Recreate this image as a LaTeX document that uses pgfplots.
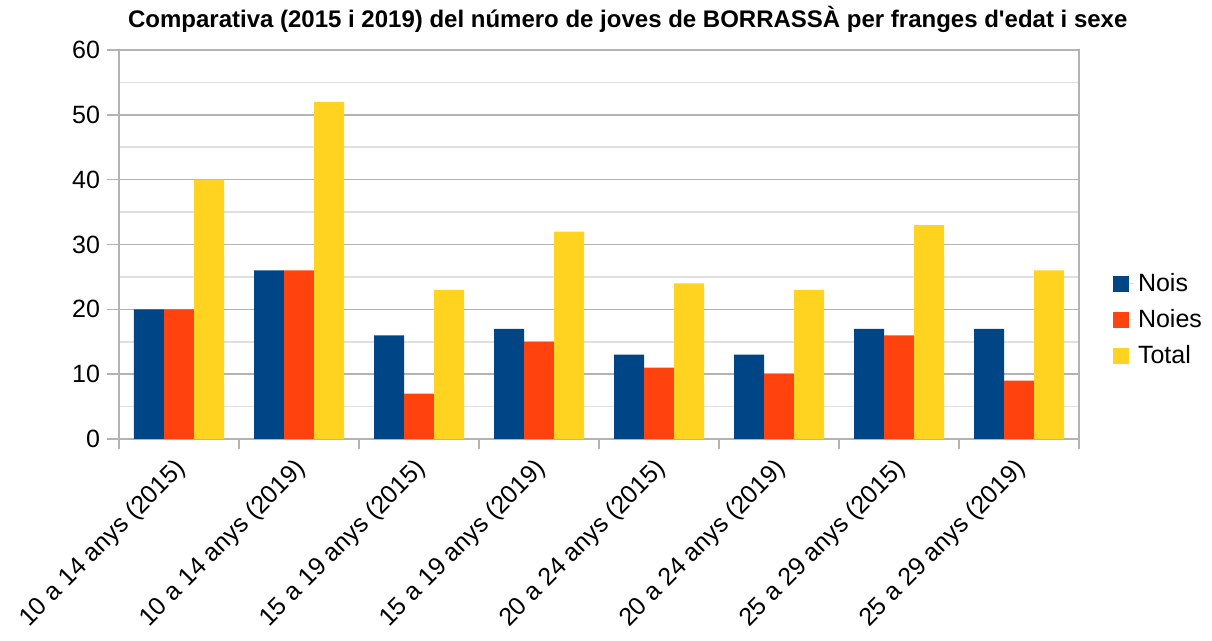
\documentclass[border=0pt]{standalone}
\usepackage{fontspec}
\setmainfont{Liberation Sans}[Ligatures=TeXOff]
\usepackage{pgfplots}
\usepackage{pgfplotstable}
\pgfplotsset{compat=1.18}

\definecolor{nois}{HTML}{004586}
\definecolor{noies}{HTML}{FF420E}
\definecolor{total}{HTML}{FFD320}
\definecolor{axgray}{HTML}{B3B3B3}

\pgfplotstableread{
x nois noies total
0 20 20 40
1 26 26 52
2 16 7 23
3 17 15 32
4 13 11 24
5 13 10 23
6 17 16 33
7 17 9 26
}\joves

\begin{document}
\begin{tikzpicture}
  \begin{axis}[
    width=480pt, height=194.5pt, scale only axis,
    clip=false,
    ybar=0pt, bar width=0.25,
    xmin=-0.5, xmax=7.5, ymin=0, ymax=60,
    ytick={0,10,...,60}, minor y tick num=1,
    xtick={0,...,7},
    xticklabels={10 a 14 anys (2015), 10 a 14 anys (2019), 15 a 19 anys (2015), 15 a 19 anys (2019),
                  20 a 24 anys (2015), 20 a 24 anys (2019), 25 a 29 anys (2015), 25 a 29 anys (2019)},
    x tick label style={rotate=45, anchor=east, xshift=-0.5pt, yshift=-6pt},
    minor xtick={-0.5,0.5,...,7.5},
    xtick pos=bottom, ytick pos=left,
    major x tick style={draw=none},
    minor y tick style={draw=none},
    tick align=outside, major tick length=6pt, minor tick length=5pt,
    tick style={axgray, line width=0.8pt},
    axis line style={axgray, line width=0.8pt},
    ymajorgrids, yminorgrids,
    major grid style={axgray, line width=0.8pt},
    minor grid style={gray!25, line width=0.8pt},
    ticklabel style={font=\fontsize{12.5}{14}\selectfont},
    /pgf/number format/assume math mode=true,
    legend style={at={(1.035,0.306)}, anchor=west, draw=none, inner sep=0pt,
                  font=\fontsize{12.5}{15}\selectfont, row sep=3.5pt},
    legend cell align=left,
    legend image code/.code={\fill[#1] (0pt,-4pt) rectangle (8pt,4pt); \path (0pt,0pt) -- (10.5pt,0pt);},
  ]
    \addplot[fill=nois, draw=none] table[x=x, y=nois] {\joves};
    \addplot[fill=noies, draw=none] table[x=x, y=noies] {\joves};
    \addplot[fill=total, draw=none] table[x=x, y=total] {\joves};
    \legend{Nois, Noies, Total}
    \node[anchor=base, inner sep=0pt, font=\bfseries\fontsize{12}{14}\selectfont]
      at ([yshift=11pt]axis description cs:0.530,1)
      {Comparativa (2015 i 2019) del número de joves de BORRASSÀ per franges d'edat i sexe};
    \path (axis description cs:0,0) ++(-59.5pt,-99.5pt) coordinate (bl);
    \path (axis description cs:1,1) ++(66.5pt,25pt) coordinate (tr);
  \end{axis}
  \path (bl) rectangle (tr);
\end{tikzpicture}
\end{document}
